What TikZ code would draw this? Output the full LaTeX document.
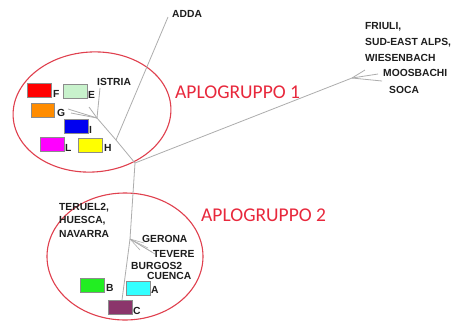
\documentclass[tikz,border=0pt]{standalone}
\usepackage{fontspec}
\setmainfont{Liberation Sans}
\newfontfamily\calib{Carlito}
\definecolor{ellred}{HTML}{E0404E}
\definecolor{txtred}{HTML}{E8283C}
\definecolor{treegray}{HTML}{ADADAD}
\definecolor{lblack}{HTML}{1E1E1E}
\definecolor{cF}{HTML}{FF0000}
\definecolor{cE}{HTML}{C8F2CC}
\definecolor{cG}{HTML}{FF8C00}
\definecolor{cI}{HTML}{0000F0}
\definecolor{cL}{HTML}{FF00FF}
\definecolor{cH}{HTML}{FFFF00}
\definecolor{cB}{HTML}{22EE22}
\definecolor{cA}{HTML}{33FFFF}
\definecolor{cC}{HTML}{8B356B}
\begin{document}
\begin{tikzpicture}[x=1pt,y=-1pt,
  lbl/.style={anchor=base west,inner sep=0pt,text=lblack,font=\bfseries\fontsize{10.3}{12}\selectfont},
  grp/.style={anchor=base west,inner sep=0pt,text=txtred,font=\calib\fontsize{19.5}{22}\selectfont},
  branch/.style={draw=treegray,line width=0.8pt},
  colbox/.style={draw=black!45,line width=0.4pt,minimum width=23.5pt,minimum height=14pt,inner sep=0pt,anchor=north west},
  grpell/.style={draw=ellred,line width=1.1pt}]
\useasboundingbox (0,0) rectangle (464,322);
\fill[white] (0,0) rectangle (464,322);
% ellipses
\draw[grpell,rotate around={4:(92,112)}] (92,112) ellipse [x radius=79, y radius=60];
\draw[grpell] (125,256.5) ellipse [x radius=78, y radius=63.5];
% tree coordinates
\coordinate (J0) at (135,163);
\coordinate (R) at (352,78);
\coordinate (R1) at (365,70);
\coordinate (R2) at (378,74);
\coordinate (R3) at (382,81);
\coordinate (A1) at (116,140);
\coordinate (AD) at (168,17);
\coordinate (Gb) at (97,118);
\coordinate (Et) at (100,88);
\coordinate (G1) at (68,109);
\coordinate (G2) at (71,113);
\coordinate (G3) at (89,107);
\coordinate (Sb) at (130,239);
\coordinate (S1) at (144,243);
\coordinate (S2) at (148,248);
\coordinate (S3) at (152,252);
\coordinate (S4) at (155,254);
\coordinate (S5) at (140,250);
\coordinate (Ct) at (122,300);
% branches
\draw[branch] (J0) -- (R);
\draw[branch] (R) -- (R1);
\draw[branch] (R) -- (R2);
\draw[branch] (R) -- (R3);
\draw[branch] (J0) -- (A1) -- (Gb);
\draw[branch] (A1) -- (AD);
\draw[branch] (Gb) -- (Et);
\draw[branch] (Gb) -- (G1);
\draw[branch] (Gb) -- (G2);
\draw[branch] (Gb) -- (G3);
\draw[branch] (J0) -- (Sb) -- (Ct);
\foreach \s in {S1,S2,S3,S4,S5} \draw[branch,line width=0.6pt] (Sb) -- (\s);
% group titles
\node[grp] (g1) at (175,98) {APLOGRUPPO 1};
\node[grp] (g2) at (201,221) {APLOGRUPPO 2};
% labels
\node[lbl] (adda) at (172,17) {ADDA};
\node[lbl] (fr1) at (365,29) {FRIULI,};
\node[lbl] (fr2) at (365,45.5) {SUD-EAST ALPS,};
\node[lbl] (fr3) at (365,61) {WIESENBACH};
\node[lbl] (moos) at (383,76) {MOOSBACHI};
\node[lbl] (soca) at (389,93) {SOCA};
\node[lbl] (istria) at (97,85) {ISTRIA};
\node[lbl] (te1) at (59,210) {TERUEL2,};
\node[lbl] (te2) at (59,223) {HUESCA,};
\node[lbl] (te3) at (59,237) {NAVARRA};
\node[lbl] (ger) at (142,242) {GERONA};
\node[lbl] (tev) at (153,257) {TEVERE};
\node[lbl] (bur) at (131,269) {BURGOS2};
\node[lbl] (cue) at (147,279.5) {CUENCA};
% coloured boxes
\node[colbox,fill=cF] (bF) at (27,83) {};
\node[colbox,fill=cE] (bE) at (63,84) {};
\node[colbox,fill=cG] (bG) at (30.5,103) {};
\node[colbox,fill=cI] (bI) at (64,119) {};
\node[colbox,fill=cL] (bL) at (40,137) {};
\node[colbox,fill=cH] (bH) at (78,137.5) {};
\node[colbox,fill=cB] (bB) at (80,278) {};
\node[colbox,fill=cA] (bA) at (126,280.5) {};
\node[colbox,fill=cC] (bC) at (108,300) {};
\node[lbl] (lF) at (53,97) {F};
\node[lbl] (lE) at (88,98) {E};
\node[lbl] (lG) at (57,116) {G};
\node[lbl] (lI) at (89,133) {I};
\node[lbl] (lL) at (65,151) {L};
\node[lbl] (lH) at (104,151) {H};
\node[lbl] (lB) at (106,291) {B};
\node[lbl] (lA) at (151,293) {A};
\node[lbl] (lC) at (133,314) {C};
\end{tikzpicture}
\end{document}
